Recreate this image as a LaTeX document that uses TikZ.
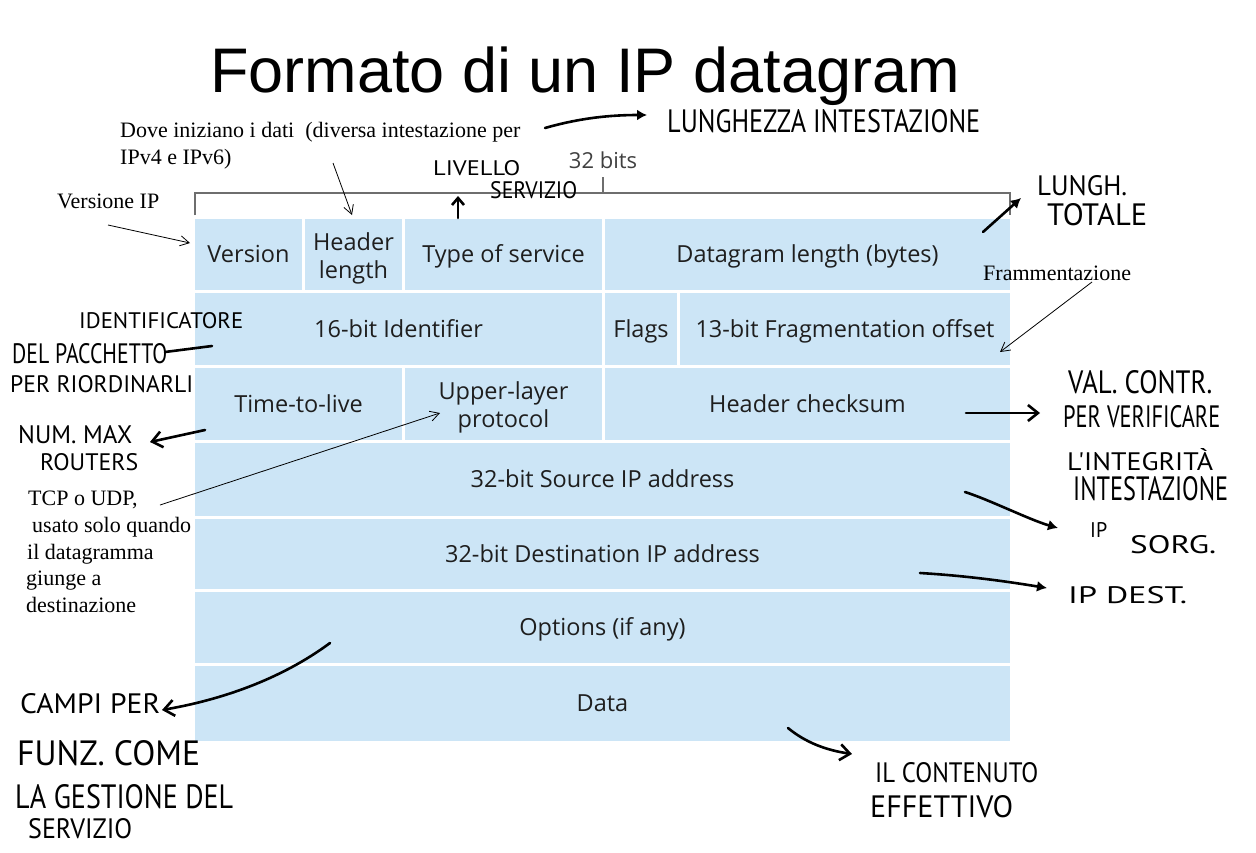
\documentclass[tikz,border=0pt]{standalone}
\usepackage{fontspec}
\setmainfont{Liberation Serif}
\newfontfamily\titlefont{Liberation Sans}
\newfontfamily\fieldfont{Open Sans}
\newfontfamily\handfont{PT Sans}
\usetikzlibrary{arrows.meta}
\definecolor{cellblue}{RGB}{204,229,246}
\definecolor{celltext}{RGB}{30,30,30}
\definecolor{bracketgray}{RGB}{110,110,110}
% pen lettering: text squeezed into a given width and cap height
\newcommand\pen[3]{\resizebox{#1pt}{#2pt}{\handfont #3}}
\begin{document}
\begin{tikzpicture}[x=1pt,y=-1pt,
  cellbase/.style={fill=cellblue, inner sep=0pt, text=celltext,
    font=\fieldfont\fontsize{23.5}{28}\selectfont, align=center},
  cell/.style={cellbase, text height=16.4pt, text depth=0pt},
  cell2/.style={cellbase},
  typed/.style={font=\fontsize{22}{26}\selectfont, inner sep=0pt, anchor=base west},
  hand/.style={inner sep=0pt, anchor=base west},
  thinarrow/.style={line width=0.8pt, -{Straight Barb[length=9pt,width=10pt]}},
  penline/.style={line width=2.6pt, line cap=round, line join=round},
  barb/.style={-{Straight Barb[length=10pt,width=16pt,line width=2.6pt]}},
  blob/.style={-{Latex[length=10pt,width=11pt]}},
]
\useasboundingbox[fill=white] (0,0) rectangle (1256,852);

% title
\node[font=\titlefont\fontsize{63}{70}\selectfont, inner sep=0pt, anchor=base] (title) at (585,92) {Formato di un IP datagram};

% 32-bit bracket
\draw[bracketgray, line width=2pt] (195,215) -- (195,193) -- (1010,193) -- (1010,215);
\draw[bracketgray, line width=2pt] (603,193) -- (603,177);
\node[font=\fieldfont\fontsize{22}{26}\selectfont, text=celltext!85, inner sep=0pt, anchor=base] (bits) at (603,168) {32 bits};

% header fields, row by row
\node[cell,  minimum width=107pt, minimum height=71pt] (ver)  at (248.5,254.5) {Version};
\node[cell2, minimum width=97pt,  minimum height=71pt] (hlen) at (353.5,254.5) {};
\node[cellbase, fill=none] (hlenlbl) at (353.5,258.5) {Header\\length};
\node[cell,  minimum width=197pt, minimum height=71pt] (tos)  at (503.5,254.5) {Type of service};
\node[cell,  minimum width=405pt, minimum height=71pt] (dlen) at (807.5,254.5) {Datagram length (bytes)};

\node[cell, minimum width=407pt, minimum height=72pt] (ident) at (398.5,329) {16-bit Identifier};
\node[cell, minimum width=72pt,  minimum height=72pt] (flags) at (641,329) {Flags};
\node[cell, minimum width=330pt, minimum height=72pt] (frag)  at (845,329) {13-bit Fragmentation offset};

\node[cell,  minimum width=207pt, minimum height=72pt] (ttl)  at (298.5,404) {Time-to-live};
\node[cell2, minimum width=197pt, minimum height=72pt] (ulp)  at (503.5,404) {};
\node[cellbase, fill=none] (ulplbl) at (503.5,407.5) {Upper-layer\\protocol};
\node[cell,  minimum width=405pt, minimum height=72pt] (csum) at (807.5,404) {Header checksum};

\node[cell, minimum width=815pt, minimum height=73pt] (src)  at (602.5,479.5) {32-bit Source IP address};
\node[cell, minimum width=815pt, minimum height=70pt] (dst)  at (602.5,554) {32-bit Destination IP address};
\node[cell, minimum width=815pt, minimum height=71pt] (opt)  at (602.5,627.5) {Options (if any)};
\node[cell, minimum width=815pt, minimum height=75pt] (data) at (602.5,703.5) {Data};

% typed notes
\node[typed] (notehl1) at (120,137) {Dove iniziano i dati\ \ (diversa intestazione per};
\node[typed] (notehl2) at (120,164) {IPv4 e IPv6)};
\node[typed] (notever) at (57,208) {Versione IP};
\node[typed] (notefrag) at (983,280) {Frammentazione};
\node[typed] (noteulp1) at (28,505) {TCP o UDP,};
\node[typed] (noteulp2) at (32,532) {usato solo quando};
\node[typed] (noteulp3) at (27,559) {il datagramma};
\node[typed] (noteulp4) at (26,585) {giunge a};
\node[typed] (noteulp5) at (26,612) {destinazione};

\coordinate (verS) at (108,225);   \coordinate (verE) at (190,243);
\coordinate (hlS) at (333,163);    \coordinate (hlE) at (352,215);
\coordinate (fragS) at (1092,282); \coordinate (fragE) at (1000,352);
\coordinate (ulpS) at (160,505);   \coordinate (ulpE) at (440,413);
\draw[thinarrow] (verS) -- (verE);
\draw[thinarrow] (hlS) -- (hlE);
\draw[thinarrow] (fragS) -- (fragE);
\draw[thinarrow] (ulpS) -- (ulpE);

% pen notes
\node[hand] (hw1)  at (667,132)  {\pen{313}{23}{LUNGHEZZA INTESTAZIONE}};
\node[hand] (hw2a) at (433,175)  {\pen{87}{15}{LIVELLO}};
\node[hand] (hw2b) at (490,198)  {\pen{87}{17}{SERVIZIO}};
\node[hand] (hw3a) at (1037,195) {\pen{90}{20}{LUNGH.}};
\node[hand] (hw3b) at (1047,225) {\pen{100}{22}{TOTALE}};
\node[hand] (hw4a) at (79,328)   {\pen{164}{16}{IDENTIFICATORE}};
\node[hand] (hw4b) at (12,363)   {\pen{155}{20}{DEL PACCHETTO}};
\node[hand] (hw4c) at (10,392)   {\pen{183}{17}{PER RIORDINARLI}};
\node[hand] (hw5a) at (18,443)   {\pen{114}{18}{NUM. MAX}};
\node[hand] (hw5b) at (40,470)   {\pen{98}{17}{ROUTERS}};
\node[hand] (hw6a) at (1068,393) {\pen{144}{23}{VAL. CONTR.}};
\node[hand] (hw6b) at (1063,427) {\pen{157}{22}{PER VERIFICARE}};
\node[hand] (hw6c) at (1067,470) {\pen{146}{22}{L'INTEGRITÀ}};
\node[hand] (hw6d) at (1073,500) {\pen{155}{24}{INTESTAZIONE}};
\node[hand] (hw7a) at (1090,537) {\pen{17}{15}{IP}};
\node[hand] (hw7b) at (1130,553) {\pen{86}{18}{SORG.}};
\node[hand] (hw8)  at (1068,603) {\pen{119}{17}{IP DEST.}};
\node[hand] (hw9a) at (20,713)   {\pen{140}{20}{CAMPI PER}};
\node[hand] (hw9b) at (17,765)   {\pen{183}{25}{FUNZ. COME}};
\node[hand] (hw9c) at (15,808)   {\pen{218}{24}{LA GESTIONE DEL}};
\node[hand] (hw9d) at (28,838)   {\pen{104}{20}{SERVIZIO}};
\node[hand] (hw10a) at (875,782) {\pen{163}{20}{IL CONTENUTO}};
\node[hand] (hw10b) at (870,817) {\pen{143}{22}{EFFETTIVO}};

\coordinate (p1S) at (545,128);  \coordinate (p1E) at (647,115);
\coordinate (p2S) at (458,218);  \coordinate (p2E) at (458,196);
\coordinate (p3S) at (983,232);  \coordinate (p3E) at (1021,198);
\coordinate (p4S) at (165,352);  \coordinate (p4E) at (212,346);
\coordinate (p5S) at (205,430);  \coordinate (p5E) at (150,442);
\coordinate (p6S) at (966,413);  \coordinate (p6E) at (1040,413);
\coordinate (p7S) at (965,492);  \coordinate (p7E) at (1058,528);
\coordinate (p8S) at (920,573);  \coordinate (p8E) at (1047,588);
\coordinate (p9S) at (330,643);  \coordinate (p9E) at (162,710);
\coordinate (p10S) at (788,728); \coordinate (p10E) at (852,754);

\draw[penline, blob] (p1S) .. controls (580,118) and (610,115) .. (p1E);
\draw[penline, -{Straight Barb[length=7pt,width=12pt,line width=2.6pt]}] (p2S) -- (p2E);
\draw[penline, blob] (p3S) -- (p3E);
\draw[penline] (p4S) -- (p4E);
\draw[penline, barb] (p5S) -- (p5E);
\draw[penline, barb] (p6S) -- (p6E);
\draw[penline, blob] (p7S) .. controls (990,500) and (1030,520) .. (p7E);
\draw[penline, blob] (p8S) .. controls (970,576) and (1010,582) .. (p8E);
\draw[penline, barb] (p9S) .. controls (280,680) and (220,700) .. (p9E);
\draw[penline, barb] (p10S) .. controls (805,742) and (825,750) .. (p10E);
\end{tikzpicture}
\end{document}
